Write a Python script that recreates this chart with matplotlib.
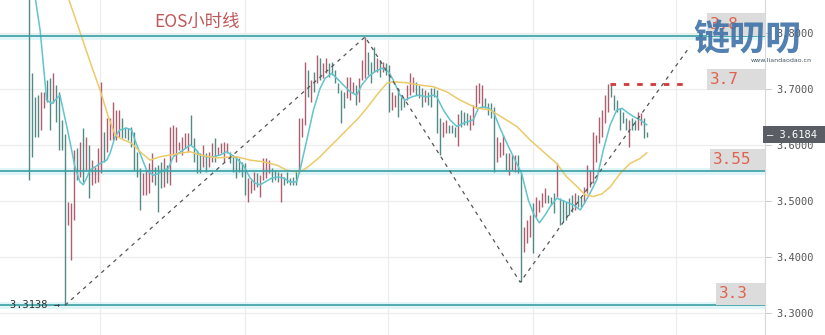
import numpy as np
import matplotlib
matplotlib.use('Agg')
import matplotlib.pyplot as plt
from matplotlib.patches import Rectangle
import matplotlib.transforms as mtransforms

# 每根K线的最高价 / 最低价 / 颜色(1=红, 0=绿)
highs = [3.90, 3.729, 3.686, 3.689, 3.695, 3.695, 3.716, 3.720, 3.729, 3.707,
         3.695, 3.645, 3.620, 3.498, 3.496, 3.591, 3.595, 3.605, 3.630, 3.614,
         3.600, 3.573, 3.561, 3.595, 3.713, 3.623, 3.648, 3.648, 3.677, 3.663,
         3.663, 3.648, 3.632, 3.630, 3.632, 3.623, 3.588, 3.559, 3.550, 3.555,
         3.568, 3.586, 3.561, 3.564, 3.570, 3.577, 3.564, 3.632, 3.636, 3.632,
         3.605, 3.614, 3.621, 3.621, 3.654, 3.613, 3.591, 3.586, 3.600, 3.586,
         3.588, 3.604, 3.613, 3.596, 3.604, 3.605, 3.604, 3.588, 3.582, 3.579,
         3.577, 3.570, 3.568, 3.541, 3.538, 3.552, 3.550, 3.546, 3.577, 3.577,
         3.573, 3.559, 3.555, 3.552, 3.550, 3.543, 3.552, 3.541, 3.543, 3.555,
         3.648, 3.648, 3.748, 3.734, 3.716, 3.730, 3.761, 3.755, 3.746, 3.755,
         3.746, 3.748, 3.734, 3.711, 3.698, 3.695, 3.721, 3.721, 3.713, 3.707,
         3.720, 3.752, 3.793, 3.766, 3.748, 3.775, 3.755, 3.752, 3.748, 3.746,
         3.743, 3.695, 3.689, 3.702, 3.686, 3.684, 3.707, 3.729, 3.721, 3.713,
         3.707, 3.702, 3.698, 3.695, 3.702, 3.702, 3.698, 3.648, 3.641, 3.645,
         3.636, 3.636, 3.632, 3.655, 3.663, 3.659, 3.657, 3.654, 3.671, 3.707,
         3.711, 3.707, 3.684, 3.675, 3.675, 3.668, 3.614, 3.605, 3.618, 3.586,
         3.586, 3.582, 3.582, 3.582, 3.550, 3.454, 3.466, 3.475, 3.496, 3.507,
         3.502, 3.514, 3.523, 3.511, 3.507, 3.514, 3.568, 3.505, 3.502, 3.498,
         3.505, 3.511, 3.514, 3.511, 3.507, 3.525, 3.564, 3.555, 3.623, 3.618,
         3.650, 3.663, 3.689, 3.709, 3.709, 3.689, 3.680, 3.666, 3.659, 3.648,
         3.645, 3.648, 3.645, 3.659, 3.657, 3.648, 3.623]
lows = [3.537, 3.579, 3.614, 3.614, 3.627, 3.666, 3.677, 3.627, 3.675, 3.641,
        3.591, 3.591, 3.3138, 3.457, 3.395, 3.466, 3.538, 3.543, 3.534, 3.555,
        3.505, 3.529, 3.532, 3.534, 3.550, 3.570, 3.588, 3.609, 3.609, 3.609,
        3.614, 3.613, 3.613, 3.609, 3.596, 3.555, 3.543, 3.484, 3.511, 3.511,
        3.514, 3.534, 3.529, 3.480, 3.523, 3.525, 3.532, 3.529, 3.582, 3.570,
        3.591, 3.582, 3.595, 3.588, 3.600, 3.570, 3.550, 3.550, 3.561, 3.552,
        3.561, 3.570, 3.570, 3.582, 3.586, 3.570, 3.586, 3.568, 3.552, 3.541,
        3.552, 3.543, 3.511, 3.498, 3.514, 3.520, 3.525, 3.507, 3.538, 3.541,
        3.550, 3.534, 3.538, 3.534, 3.498, 3.529, 3.532, 3.529, 3.529, 3.529,
        3.550, 3.614, 3.636, 3.686, 3.677, 3.695, 3.711, 3.716, 3.720, 3.729,
        3.721, 3.725, 3.711, 3.693, 3.639, 3.666, 3.684, 3.680, 3.693, 3.671,
        3.677, 3.716, 3.720, 3.725, 3.711, 3.730, 3.730, 3.721, 3.730, 3.725,
        3.659, 3.663, 3.668, 3.650, 3.663, 3.668, 3.680, 3.689, 3.695, 3.689,
        3.684, 3.668, 3.677, 3.671, 3.668, 3.686, 3.621, 3.582, 3.614, 3.621,
        3.621, 3.621, 3.614, 3.598, 3.632, 3.636, 3.636, 3.627, 3.636, 3.666,
        3.675, 3.666, 3.666, 3.654, 3.648, 3.552, 3.570, 3.579, 3.582, 3.555,
        3.546, 3.555, 3.552, 3.550, 3.355, 3.409, 3.425, 3.436, 3.407, 3.471,
        3.480, 3.489, 3.496, 3.496, 3.493, 3.479, 3.507, 3.457, 3.462, 3.466,
        3.475, 3.480, 3.484, 3.489, 3.489, 3.496, 3.514, 3.525, 3.532, 3.570,
        3.604, 3.614, 3.640, 3.659, 3.686, 3.663, 3.659, 3.627, 3.639, 3.627,
        3.596, 3.627, 3.627, 3.627, 3.636, 3.613, 3.614]
up = [0, 0, 0, 0, 1, 1, 0, 0, 1, 0,
      0, 0, 0, 1, 1, 1, 0, 1, 0, 1,
      0, 1, 1, 1, 1, 0, 1, 1, 1, 1,
      1, 0, 0, 0, 0, 0, 0, 0, 1, 1,
      1, 1, 0, 0, 0, 1, 0, 1, 1, 1,
      1, 1, 1, 1, 0, 0, 0, 0, 1, 0,
      1, 1, 0, 1, 1, 1, 1, 0, 0, 0,
      0, 0, 0, 1, 1, 1, 0, 1, 1, 1,
      1, 0, 0, 0, 1, 0, 0, 0, 0, 0,
      1, 1, 1, 0, 1, 0, 1, 0, 1, 1,
      0, 0, 0, 0, 0, 0, 1, 1, 1, 0,
      1, 1, 1, 0, 0, 0, 1, 0, 1, 0,
      0, 1, 1, 0, 0, 0, 1, 1, 1, 0,
      0, 0, 1, 0, 0, 0, 0, 0, 1, 1,
      0, 0, 0, 1, 0, 0, 0, 1, 1, 1,
      1, 1, 0, 0, 0, 0, 1, 1, 1, 0,
      1, 0, 1, 0, 0, 1, 1, 1, 0, 1,
      1, 1, 1, 0, 0, 0, 1, 0, 0, 0,
      0, 0, 1, 0, 0, 1, 1, 1, 1, 1,
      1, 1, 1, 1, 0, 0, 0, 0, 0, 0,
      1, 0, 0, 1, 1, 0, 0]

# 短期均线 (青色)
ma_fast_x = [1.5, 3.6, 5.8, 7.5, 9.1, 10.2, 12.5, 14.1, 15.2, 16.9, 18.0, 19.1, 20.2,
             21.9, 23.6, 25.8, 26.9, 28.6, 30.2, 32.5, 34.1, 35.2, 36.9, 39.1, 41.3,
             43.0, 44.7, 46.3, 48.0, 51.3, 53.6, 55.2, 56.9, 59.1, 61.3, 63.6, 65.8,
             67.5, 69.1, 71.3, 73.6, 75.2, 76.9, 78.6, 80.8, 83.0, 84.7, 86.9, 89.1,
             90.2, 92.5, 94.7, 96.9, 98.6, 100.8, 102.5, 104.7, 106.9, 109.1, 110.8,
             113.0, 115.2, 117.5, 119.7, 121.3, 123.6, 125.2, 127.5, 129.7, 132.5,
             134.7, 135.8, 138.0, 140.2, 142.5, 144.7, 148.0, 149.7, 151.3, 153.0,
             154.7, 156.9, 159.7, 161.9, 164.1, 166.3, 168.0, 170.0, 171.9, 173.6,
             175.8, 178.6, 181.3, 183.6, 184.7, 186.9, 189.1, 191.3, 193.6, 195.8,
             197.5, 199.1, 201.3, 203.6, 205.8]
ma_fast_y = [3.880, 3.805, 3.680, 3.674, 3.683, 3.689, 3.633, 3.591, 3.561, 3.534,
             3.529, 3.541, 3.555, 3.561, 3.567, 3.573, 3.585, 3.615, 3.627, 3.630,
             3.627, 3.609, 3.585, 3.555, 3.546, 3.549, 3.555, 3.558, 3.579, 3.591,
             3.600, 3.594, 3.582, 3.579, 3.579, 3.582, 3.588, 3.582, 3.576, 3.564,
             3.541, 3.532, 3.529, 3.534, 3.541, 3.543, 3.541, 3.534, 3.534, 3.555,
             3.609, 3.6625, 3.701, 3.719, 3.728, 3.719, 3.707, 3.695, 3.689, 3.707,
             3.722, 3.731, 3.737, 3.731, 3.716, 3.689, 3.680, 3.686, 3.689, 3.686,
             3.689, 3.686, 3.6625, 3.645, 3.633, 3.639, 3.645, 3.666, 3.668, 3.666,
             3.659, 3.630, 3.597, 3.573, 3.549, 3.502, 3.478, 3.461, 3.475, 3.490,
             3.505, 3.499, 3.493, 3.484, 3.493, 3.514, 3.5375, 3.591, 3.636, 3.6625,
             3.6655, 3.659, 3.651, 3.645, 3.636]

# 长期均线 (黄色)
ma_slow_x = [12.5, 16.3, 20.8, 23.6, 26.3, 28.6, 30.2, 34.1, 36.9, 40.2, 43.6, 46.9,
             51.3, 53.6, 56.9, 62.5, 69.1, 73.6, 78.0, 82.5, 85.8, 89.1, 91.3, 93.6,
             96.9, 100.2, 103.6, 106.9, 109.7, 112.5, 115.8, 119.1, 121.3, 125.8,
             130.2, 134.7, 139.1, 143.6, 149.1, 153.6, 158.0, 162.5, 166.9, 171.3,
             175.8, 179.1, 182.5, 185.2, 188.0, 190.8, 193.6, 196.9, 200.2, 203.6,
             205.8]
ma_slow_y = [3.870, 3.811, 3.740, 3.698, 3.651, 3.618, 3.612, 3.603, 3.588, 3.573,
             3.579, 3.582, 3.586, 3.588, 3.582, 3.577, 3.579, 3.573, 3.570, 3.564,
             3.555, 3.552, 3.555, 3.564, 3.579, 3.597, 3.615, 3.633, 3.648, 3.666,
             3.689, 3.710, 3.713, 3.711, 3.707, 3.704, 3.695, 3.680, 3.666, 3.6625,
             3.648, 3.633, 3.609, 3.588, 3.567, 3.543, 3.526, 3.511, 3.508, 3.5125,
             3.525, 3.549, 3.567, 3.576, 3.586]

# 水平支撑/压力线
levels = [3.7946, 3.5536, 3.3138]
# 右侧标注
level_tags = ['3.8', '3.7', '3.55', '3.3']
tag_top = [3.8357, 3.7357, 3.593, 3.3536]
tag_bottom = [3.7946, 3.698, 3.5554, 3.3143]
tag_left = [0.924, 0.924, 0.928, 0.936]

# 虚线趋势 (K线序号, 价格)
trend_x = [11.9, 111.9, 163.6, 220.2]
trend_y = [3.3138, 3.793, 3.355, 3.776]

yticks = [3.3, 3.4, 3.5, 3.6, 3.7, 3.8]
grid_x = [23.6, 71.9, 119.6, 167.9, 215.6]
last_price = 3.6184
low_price = 3.3138
target_price = 3.709

mono = 'DejaVu Sans Mono'

fig = plt.figure(figsize=(8.25, 3.35), dpi=100)
ax = fig.add_axes([0, 0, 765 / 825, 1])
ax.set_facecolor('white')

x = np.arange(len(highs))
ax.set_xlim(-9.77, 245.2)
ax.set_ylim(3.2607, 3.8589)

# 网格
ax.set_xticks(grid_x)
ax.set_yticks(yticks)
ax.grid(True, color='#ececec', linewidth=0.9, zorder=0)
ax.tick_params(axis='x', length=0, labelbottom=False)
ax.yaxis.tick_right()
ax.set_yticklabels(['%.4f' % v for v in yticks], fontfamily=mono,
                   fontsize=7.5, color='#555555')
ax.tick_params(axis='y', length=4, color='#cccccc', pad=4)
for s in ['top', 'left', 'bottom']:
    ax.spines[s].set_visible(False)
ax.spines['right'].set_color('#d8d8d8')

# 水平线
for lv in levels:
    ax.axhline(lv, color='#dff5f7', linewidth=5, zorder=1)
    ax.axhline(lv, color='#3a9fa5', linewidth=1.2, zorder=4)

# K线
colors = ['#ad5f70' if u else '#538a85' for u in up]
ax.vlines(x, lows, highs, colors=colors, linewidth=1.0, zorder=2)

# 均线
ax.plot(ma_fast_x, ma_fast_y, color='#62c4cc', linewidth=1.1, zorder=3)
ax.plot(ma_slow_x, ma_slow_y, color='#ecca6a', linewidth=1.1, zorder=3)

# 趋势虚线
ax.plot(trend_x, trend_y, color='#555555', linewidth=0.9,
        linestyle=(0, (3, 3.5)), zorder=5)

# 红色目标虚线
ax.plot([193.6, 220.2], [target_price, target_price], color='#d23a3a',
        linewidth=2, linestyle=(0, (2, 2.8)), zorder=5)

# 右侧灰色标注框
blend = mtransforms.blended_transform_factory(ax.transAxes, ax.transData)
for tag, t, b, l in zip(level_tags, tag_top, tag_bottom, tag_left):
    ax.add_patch(Rectangle((l, b), 1 - l, t - b, transform=blend,
                           facecolor='#dcdcdc', edgecolor='none', zorder=6))
    ax.text(l + 0.004, (t + b) / 2, tag, transform=blend, fontfamily=mono,
            fontsize=11.5, color='#e0624e', va='center', ha='left', zorder=7)

# 最低点标注
ax.text(0.013, low_price, '%.4f →' % low_price, transform=blend,
        fontfamily=mono, fontsize=7.5, color='#333333', va='center', zorder=7)

# 当前价格
ax.text(1.002, last_price, '‒ %.4f ' % last_price, transform=blend,
        fontfamily=mono, fontsize=7.5, color='white', va='center', ha='left',
        bbox=dict(boxstyle='square,pad=0.35', facecolor='#5a5e64', edgecolor='none'),
        clip_on=False, zorder=8)

# 标题
ax.text(197 / 765, 1 - 22 / 335, 'EOS小时线', transform=ax.transAxes,
        fontfamily=['Noto Sans CJK SC', 'DejaVu Sans'], fontsize=12.5,
        color='#c0585a', ha='center', va='center', zorder=7)

# 水印
fig.text(747 / 825, 1 - 40 / 335, '链叨叨', fontfamily=['Noto Sans CJK SC'],
         fontsize=26, fontweight='black', color='#3f72a8', alpha=0.9,
         ha='center', va='center', zorder=10)
fig.text(812 / 825, 1 - 61 / 335, 'www.liandaodao.cn', fontfamily='DejaVu Sans',
         fontsize=4.5, color='#445566', ha='right', va='center', zorder=10)

fig.savefig('out.png', dpi=100)
